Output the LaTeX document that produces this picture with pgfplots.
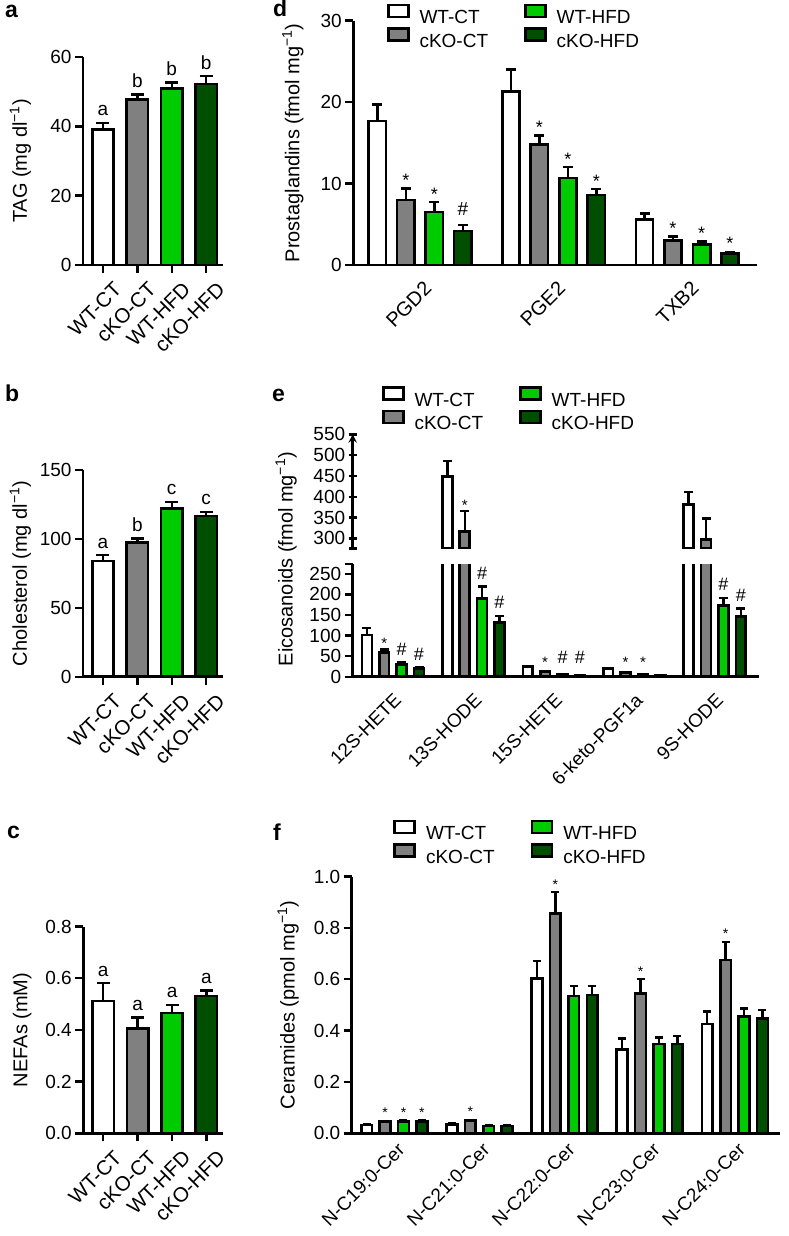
\documentclass[border=0pt]{standalone}
\usepackage{fontspec}
\setmainfont{Liberation Sans}
\usepackage{pgfplots}
\pgfplotsset{compat=1.18}
\definecolor{cgray}{RGB}{128,128,128}
\definecolor{cgreen}{RGB}{0,202,0}
\definecolor{cdark}{RGB}{0,78,0}
\pgfplotsset{
  base/.style={scale only axis, anchor=south west, axis lines=left,
    axis line style={-, line width=2.6pt}, tick style={line width=2.4pt, black},
    tick align=outside, major tick length=8pt,
    tick label style={font=\fontsize{19}{22}\selectfont},
    ylabel style={font=\fontsize{20}{24}\selectfont, inner sep=0pt, anchor=base},
    /pgf/number format/assume math mode=true, clip=false},
  bars/.style={ybar, bar shift=0pt, draw=black, line width=2.6pt, forget plot,
    error bars/y dir=plus, error bars/y explicit,
    error bars/error bar style={line width=2.4pt, black},
    error bars/error mark options={rotate=90, line width=2.4pt, black, mark size=#1}},
  ann/.style 2 args={only marks, mark=*, mark size=0pt, mark options={draw=none, fill=none}, forget plot,
    nodes near coords, point meta=explicit symbolic,
    every node near coord/.append style={anchor=base, inner sep=0pt, black, font=\fontsize{#1}{#1}\selectfont, yshift=#2}},
  leg/.style={legend columns=2, transpose legend, legend cell align=left,
    legend image code/.code={\draw[##1, line width=2.6pt] (0pt,0.8pt) rectangle (20pt,12.8pt);},
    legend style={draw=none, fill=none, inner sep=0pt, anchor=north west,
      font=\fontsize{19}{22}\selectfont, row sep=2pt, nodes={inner sep=0pt},
      /tikz/every odd column/.append style={column sep=10pt},
      /tikz/every even column/.append style={column sep=36pt}}},
  grp/.style n args={3}{xticklabel style={font=\fontsize{#1}{#1}\selectfont, xshift=#2, yshift=#3, rotate=45, anchor=east, inner sep=0pt}},
}
\begin{document}
\begin{tikzpicture}
\useasboundingbox (0,0) rectangle (788pt,-1236pt);
\tikzset{plab/.style={anchor=base west, inner sep=0pt, font=\fontsize{23}{23}\selectfont\bfseries}}
\node[plab] at (5pt,-18pt) {a};
\node[plab] at (5pt,-401pt) {b};
\node[plab] at (7pt,-838pt) {c};
\node[plab] at (273pt,-17pt) {d};
\node[plab] at (272pt,-401pt) {e};
\node[plab] at (273pt,-840pt) {f};

% ---------- a ----------
\begin{axis}[base, grp={20.5}{15pt}{-13pt}, at={(83pt,-265pt)}, width=140pt, height=208pt,
  xmin=-0.58, xmax=3.49, ymin=0, ymax=60, ytick={0,20,40,60},
  xtick={0,1,2,3}, xticklabels={WT-CT,cKO-CT,WT-HFD,cKO-HFD},
  ylabel={TAG (mg dl\textsuperscript{−1})},
  ylabel style={at={([xshift=-56pt]axis description cs:0,0.5)}}]
\addplot[bars=6.5pt, fill=white, bar width=0.62] coordinates {(0,39.1) +- (0,1.9)};
\addplot[bars=6.5pt, fill=cgray, bar width=0.62] coordinates {(1,47.7) +- (0,1.5)};
\addplot[bars=6.5pt, fill=cgreen, bar width=0.62] coordinates {(2,50.9) +- (0,1.7)};
\addplot[bars=6.5pt, fill=cdark, bar width=0.62] coordinates {(3,52.2) +- (0,2.3)};
\addplot[ann={19}{7pt}] table[meta=t] {
x y t
0 41.0 a
1 49.2 b
2 52.6 b
3 54.5 b
};
\end{axis}

% ---------- b ----------
\begin{axis}[base, grp={20.5}{15pt}{-13pt}, at={(83pt,-676.7pt)}, width=140pt, height=206.7pt,
  xmin=-0.58, xmax=3.49, ymin=0, ymax=150, ytick={0,50,100,150},
  xtick={0,1,2,3}, xticklabels={WT-CT,cKO-CT,WT-HFD,cKO-HFD},
  ylabel={Cholesterol (mg dl\textsuperscript{−1})},
  ylabel style={at={([xshift=-56pt]axis description cs:0,0.5)}}]
\addplot[bars=6.5pt, fill=white, bar width=0.62] coordinates {(0,84.0) +- (0,4.3)};
\addplot[bars=6.5pt, fill=cgray, bar width=0.62] coordinates {(1,97.2) +- (0,3.2)};
\addplot[bars=6.5pt, fill=cgreen, bar width=0.62] coordinates {(2,122.2) +- (0,4.8)};
\addplot[bars=6.5pt, fill=cdark, bar width=0.62] coordinates {(3,116.6) +- (0,3.1)};
\addplot[ann={19}{7pt}] table[meta=t] {
x y t
0 88.3 a
1 100.4 b
2 127.0 c
3 119.7 c
};
\end{axis}

% ---------- c ----------
\begin{axis}[base, grp={20.5}{15pt}{-13pt}, at={(83.3pt,-1133.3pt)}, width=140pt, height=206.7pt,
  xmin=-0.58, xmax=3.49, ymin=0, ymax=0.8, ytick={0,0.2,0.4,0.6,0.8},
  yticklabel style={/pgf/number format/fixed, /pgf/number format/fixed zerofill, /pgf/number format/precision=1},
  xtick={0,1,2,3}, xticklabels={WT-CT,cKO-CT,WT-HFD,cKO-HFD},
  ylabel={NEFAs (mM)},
  ylabel style={at={([xshift=-56pt]axis description cs:0,0.5)}}]
\addplot[bars=6.5pt, fill=white, bar width=0.62] coordinates {(0,0.512) +- (0,0.069)};
\addplot[bars=6.5pt, fill=cgray, bar width=0.62] coordinates {(1,0.406) +- (0,0.043)};
\addplot[bars=6.5pt, fill=cgreen, bar width=0.62] coordinates {(2,0.465) +- (0,0.032)};
\addplot[bars=6.5pt, fill=cdark, bar width=0.62] coordinates {(3,0.532) +- (0,0.020)};
\addplot[ann={19}{7pt}] table[meta=t] {
x y t
0 0.581 a
1 0.449 a
2 0.497 a
3 0.552 a
};
\end{axis}

% ---------- d ----------
\begin{axis}[base, grp={20}{8pt}{-12pt}, leg, at={(353.3pt,-265pt)}, width=403.4pt, height=244.3pt,
  xmin=-0.5, xmax=2.52, ymin=0, ymax=30, ytick={0,10,20,30},
  xtick={0,1,2}, xticklabels={PGD2,PGE2,TXB2}, xtick style={draw=none},
  ylabel={Prostaglandins (fmol mg\textsuperscript{−1})},
  ylabel style={at={([xshift=-54pt]axis description cs:0,0.5)}},
  legend style={at={(axis description cs:0.0828,1.0696)}}]
\addlegendimage{fill=white, draw=black}
\addlegendimage{fill=cgray, draw=black}
\addlegendimage{fill=cgreen, draw=black}
\addlegendimage{fill=cdark, draw=black}
\legend{WT-CT,cKO-CT,WT-HFD,cKO-HFD}
\addplot[bars=5pt, fill=white, bar width=0.13] table[x=x, y=y, y error=e] {
x y e
-0.320 17.7 2.0
0.680 21.3 2.7
1.680 5.6 0.7
};
\addplot[bars=5pt, fill=cgray, bar width=0.13] table[x=x, y=y, y error=e] {
x y e
-0.107 8.0 1.4
0.893 14.8 1.1
1.893 3.0 0.5
};
\addplot[bars=5pt, fill=cgreen, bar width=0.13] table[x=x, y=y, y error=e] {
x y e
0.107 6.5 1.2
1.107 10.7 1.3
2.107 2.5 0.4
};
\addplot[bars=5pt, fill=cdark, bar width=0.13] table[x=x, y=y, y error=e] {
x y e
0.320 4.2 0.7
1.320 8.6 0.7
2.320 1.4 0.2
};
\addplot[ann={18}{2pt}] table[meta=t] {
x y t
-0.107 9.4 *
0.893 15.9 *
1.893 3.5 *
0.107 7.7 *
1.107 12.0 *
2.107 2.9 *
1.320 9.3 *
2.320 1.6 *
};
\addplot[ann={19}{10pt}] table[meta=t] {
x y t
0.320 4.9 \#
};
\end{axis}

% ---------- e (lower) ----------
\begin{axis}[base, grp={19}{5pt}{-12pt}, at={(352.7pt,-676.7pt)}, width=406.3pt, height=112.7pt,
  clip=true, xmin=-0.5, xmax=4.55, ymin=0, ymax=274, ytick={0,50,...,250},
  extra y ticks={274}, extra y tick labels={},
  xtick={0,1,2,3,4}, xticklabels={12S-HETE,13S-HODE,15S-HETE,6-keto-PGF1a,9S-HODE},
  xtick style={draw=none},
  ylabel={Eicosanoids (fmol mg\textsuperscript{−1})},
  ylabel style={at={([xshift=-60pt]axis description cs:0,1.044)}}]
\addplot[bars=4.5pt, fill=white, bar width=0.123] table[x=x, y=y, y error=e] {
x y e
-0.324 101.5 16.3
0.676 448.0 38.5
1.676 24.3 2.0
2.676 19.5 2.0
3.676 381.7 30.3
};
\addplot[bars=4.5pt, fill=cgray, bar width=0.123] table[x=x, y=y, y error=e] {
x y e
-0.108 58.5 8.1
0.892 316.0 49.6
1.892 12.2 1.3
2.892 9.7 1.0
3.892 297.6 50.4
};
\addplot[bars=4.5pt, fill=cgreen, bar width=0.123] table[x=x, y=y, y error=e] {
x y e
0.108 30.1 4.9
1.108 190.8 28.4
2.108 6.5 0.8
3.108 6.5 0.5
4.108 172.9 18.8
};
\addplot[bars=4.5pt, fill=cdark, bar width=0.123] table[x=x, y=y, y error=e] {
x y e
0.324 20.4 1.6
1.324 132.4 15.4
2.324 4.0 0.5
3.324 3.4 0.3
4.324 146.0 19.6
};
\addplot[ann={15}{1pt}] table[meta=t] {
x y t
-0.108 66.6 *
1.892 20.0 *
2.892 19.0 *
3.108 19.0 *
};
\addplot[ann={18}{7pt}] table[meta=t] {
x y t
0.108 35.0 \#
0.324 22.0 \#
1.108 219.2 \#
1.324 147.8 \#
2.108 16.0 \#
2.324 16.0 \#
4.108 191.7 \#
4.324 165.6 \#
};
\end{axis}

% ---------- e (upper) ----------
\begin{axis}[base, leg, at={(352.7pt,-548.3pt)}, width=406.3pt, height=114pt,
  clip=true, axis x line=none, axis y line=left,
  xmin=-0.5, xmax=4.55, ymin=276, ymax=550, ytick={300,350,...,550},
  extra y ticks={276}, extra y tick labels={}, xtick=\empty,
  legend style={at={(axis description cs:0.0714,1.424)}}]
\addlegendimage{fill=white, draw=black}
\addlegendimage{fill=cgray, draw=black}
\addlegendimage{fill=cgreen, draw=black}
\addlegendimage{fill=cdark, draw=black}
\legend{WT-CT,cKO-CT,WT-HFD,cKO-HFD}
\addplot[bars=4.5pt, fill=white, bar width=0.123] table[x=x, y=y, y error=e] {
x y e
0.676 448.0 38.5
3.676 381.7 30.3
};
\addplot[bars=4.5pt, fill=cgray, bar width=0.123] table[x=x, y=y, y error=e] {
x y e
0.892 316.0 49.6
3.892 297.6 50.4
};
\addplot[ann={15}{1pt}] table[meta=t] {
x y t
0.892 365.6 *
};
\end{axis}

% ---------- f ----------
\begin{axis}[base, grp={19}{7pt}{-5pt}, leg, at={(351.7pt,-1133.3pt)}, width=428.3pt, height=256.7pt,
  xmin=-0.5, xmax=4.53, ymin=0, ymax=1.0, ytick={0,0.2,0.4,0.6,0.8,1.0},
  yticklabel style={/pgf/number format/fixed, /pgf/number format/fixed zerofill, /pgf/number format/precision=1},
  xtick={0,1,2,3,4}, xticklabels={N-C19:0-Cer,N-C21:0-Cer,N-C22:0-Cer,N-C23:0-Cer,N-C24:0-Cer},
  xtick style={draw=none},
  ylabel={Ceramides (pmol mg\textsuperscript{−1})},
  ylabel style={at={([xshift=-57pt]axis description cs:0,0.5)}},
  legend style={at={(axis description cs:0.097,1.222)}}]
\addlegendimage{fill=white, draw=black}
\addlegendimage{fill=cgray, draw=black}
\addlegendimage{fill=cgreen, draw=black}
\addlegendimage{fill=cdark, draw=black}
\legend{WT-CT,cKO-CT,WT-HFD,cKO-HFD}
\addplot[bars=4pt, fill=white, bar width=0.126] table[x=x, y=y, y error=e] {
x y e
-0.324 0.032 0.003
0.676 0.035 0.003
1.676 0.604 0.067
2.676 0.327 0.043
3.676 0.426 0.048
};
\addplot[bars=4pt, fill=cgray, bar width=0.126] table[x=x, y=y, y error=e] {
x y e
-0.108 0.045 0.004
0.892 0.049 0.004
1.892 0.857 0.082
2.892 0.545 0.055
3.892 0.675 0.071
};
\addplot[bars=4pt, fill=cgreen, bar width=0.126] table[x=x, y=y, y error=e] {
x y e
0.108 0.047 0.003
1.108 0.028 0.002
2.108 0.535 0.040
3.108 0.348 0.026
4.108 0.454 0.033
};
\addplot[bars=4pt, fill=cdark, bar width=0.126] table[x=x, y=y, y error=e] {
x y e
0.324 0.047 0.003
1.324 0.028 0.002
2.324 0.539 0.036
3.324 0.348 0.031
4.324 0.448 0.032
};
\addplot[ann={14}{3pt}] table[meta=t] {
x y t
-0.108 0.050 *
0.108 0.050 *
0.324 0.050 *
0.892 0.053 *
1.892 0.939 *
2.892 0.600 *
3.892 0.746 *
};
\end{axis}
\end{tikzpicture}
\end{document}
